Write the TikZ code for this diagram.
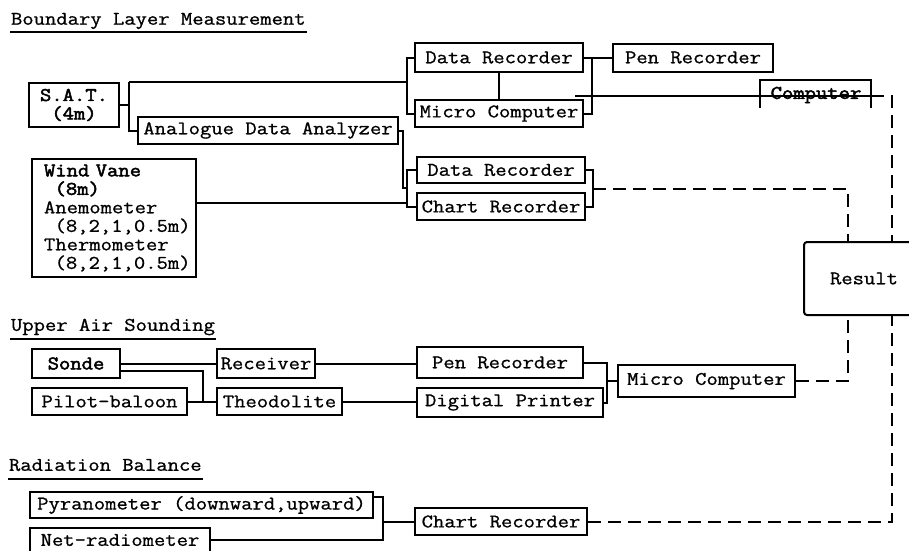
\documentclass[tikz,border=0pt]{standalone}
\usepackage{fontspec}
\newfontfamily\mono{Latin Modern Mono}[FakeStretch=1.14,FakeBold=0.9]
\newfontfamily\monob{Latin Modern Mono}[FakeStretch=1.14,FakeBold=2.6]
\begin{document}
\begin{tikzpicture}[x=1pt,y=-1pt,line width=2pt,
  every node/.style={font=\mono\fontsize{19.3}{18.5}\selectfont, inner sep=0pt},
  bx/.style={draw, rectangle, line width=2pt},
  dsh/.style={dash pattern=on 13pt off 7pt, line width=2pt},
  ttl/.style={anchor=west}]
\useasboundingbox (0,0) rectangle (909,550);
\clip (0,0) rectangle (909,550);
\fill[white] (0,0) rectangle (909,550);

% ---------- Titles ----------
\node[ttl] (t1) at (10,21) {Boundary Layer Measurement};
\draw ([yshift=-7pt]t1.base west) -- ([yshift=-7pt]t1.base east);
\node[ttl] (t2) at (10,327) {Upper Air Sounding};
\draw ([yshift=-8pt]t2.base west) -- ([yshift=-8pt]t2.base east);
\node[ttl] (t3) at (8,465) {Radiation Balance};
\draw ([yshift=-8pt]t3.base west) -- ([yshift=-8pt]t3.base east);

% ---------- Boundary layer ----------
\node[bx, minimum width=90, minimum height=44, align=center, font=\monob\fontsize{19.3}{18.5}\selectfont] (sat) at (74,105) {S.A.T.\\(4m)};
\node[bx, minimum width=260, minimum height=27] (ada) at (268,130.5) {Analogue Data Analyzer};
\node[bx, anchor=north west, inner xsep=12pt, text width=140, minimum height=118, align=left] (wv) at (31,158)
  {{\monob Wind Vane}\\\hspace*{0.55em}{\monob (8m)}\\Anemometer\\\hspace*{0.55em}(8,2,1,0.5m)\\Thermometer\\\hspace*{0.55em}(8,2,1,0.5m)};

\node[bx, minimum width=168, minimum height=29] (dr1) at (499,57.5) {Data Recorder};
\node[bx, minimum width=168, minimum height=27] (mc1) at (499,113.5) {Micro Computer};
\node[bx, minimum width=160, minimum height=28] (pen1) at (693,57.5) {Pen Recorder};
\node[bx, minimum width=168, minimum height=26] (dr2) at (501,170) {Data Recorder};
\node[bx, minimum width=168, minimum height=27] (cr1) at (501,206.5) {Chart Recorder};

\node[font=\monob\fontsize{19.3}{18.5}\selectfont] (comp) at (816,95) {Computer};
\draw (760,108) -- (760,80) -- (871,80) -- (871,108);

\node[bx, rounded corners=3pt, anchor=west, minimum width=120, minimum height=73] (res) at (803,278.5) {Result};

\coordinate (b1) at (407,0);
\coordinate (b2) at (592,0);
\coordinate (b4) at (593,0);
\coordinate (lx) at (848,0);
\coordinate (rx) at (892,0);
\coordinate (j1) at (129,82);
\coordinate (cl) at (575,96);

\draw (sat.east) -- (sat.east -| j1);
\draw (j1) |- (ada.west);
\draw (j1) -- (j1 -| b1);
\draw (dr1.west) -- (dr1.west -| b1) -- (mc1.west -| b1) -- (mc1.west);
\draw (dr1.south) -- (mc1.north);
\draw (dr1.east) -- (dr1.east -| b2) -- (mc1.east -| b2) -- (mc1.east);
\draw (dr1.east -| b2) -- (pen1.west);
\draw (cl) -- (871,96);
\draw[dsh] (871,96) -| (res.north -| rx);

\draw (ada.east) -- ++(4,0) |- (b1 |- 0,188);
\draw (wv.east |- 0,203) -- (b1 |- 0,203);
\draw (dr2.west) -- (dr2.west -| b1) -- (cr1.west -| b1) -- (cr1.west);
\draw (dr2.east) -- (dr2.east -| b4) -- (cr1.east -| b4) -- (cr1.east);
\draw[dsh] (b4 |- 0,189) -| (res.north -| lx);

% ---------- Upper air ----------
\node[bx, minimum width=88, minimum height=29, font=\monob\fontsize{19.3}{18.5}\selectfont] (sonde) at (76,363.5) {Sonde};
\node[bx, minimum width=98, minimum height=29] (recv) at (266,363.5) {Receiver};
\node[bx, minimum width=155, minimum height=27] (pilot) at (109.5,401.5) {Pilot-baloon};
\node[bx, minimum width=125, minimum height=27] (theo) at (279.5,401.5) {Theodolite};
\node[bx, minimum width=166, minimum height=31] (pen2) at (500,362.5) {Pen Recorder};
\node[bx, minimum width=186, minimum height=29] (dp) at (510,402.5) {Digital Printer};
\node[bx, minimum width=177, minimum height=32] (mc2) at (706.5,381) {Micro Computer};

\coordinate (j3) at (203,401.5);
\coordinate (b5) at (607,0);
\draw (sonde.east) -- (recv.west);
\draw ([yshift=-7pt]sonde.east) -| (j3) -- (theo.west);
\draw (pilot.east) -- (theo.west);
\draw (recv.east) -- (recv.east -| pen2.west);
\draw (theo.east) -- (theo.east -| dp.west);
\draw (pen2.east) -- (pen2.east -| b5) -- (dp.east -| b5) -- (dp.east);
\draw (b5 |- mc2.west) -- (mc2.west);
\draw[dsh] (mc2.east) -| (res.south -| lx);

% ---------- Radiation ----------
\node[bx, minimum width=343, minimum height=26] (pyr) at (201.5,505) {Pyranometer (downward,upward)};
\node[bx, minimum width=180, minimum height=24] (net) at (120,540) {Net-radiometer};
\node[bx, minimum width=172, minimum height=27] (cr2) at (501,521.5) {Chart Recorder};

\coordinate (b6) at (383,0);
\draw ([yshift=8pt]pyr.east) -| (b6 |- net.east) -- (net.east);
\draw (b6 |- cr2.west) -- (cr2.west);
\draw[dsh] (cr2.east) -| (res.south -| rx);
\end{tikzpicture}
\end{document}
